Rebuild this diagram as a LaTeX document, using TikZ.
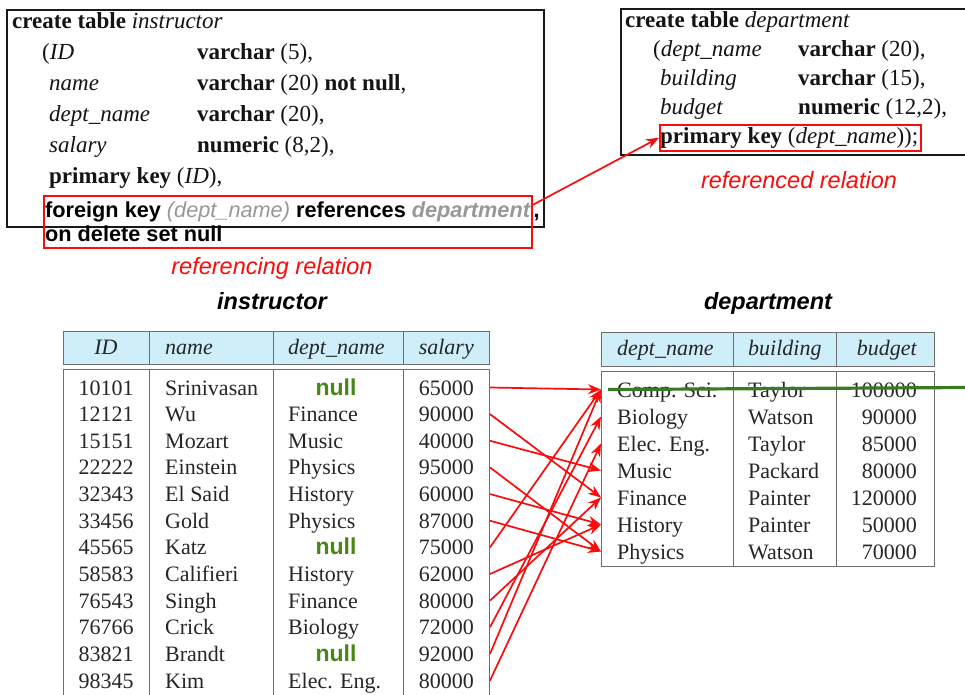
\documentclass[tikz,border=0pt]{standalone}
\usepackage{fontspec}
\setmainfont{Liberation Serif}
\setsansfont{Liberation Sans}
\usetikzlibrary{positioning,arrows.meta}
\tikzstyle{pixelGrid} = [x = 1pt, y = -1pt]
\definecolor{headerColor}{RGB}{206,238,250}
\definecolor{ruleColor}{RGB}{110,110,110}
\definecolor{cellInk}{RGB}{38,38,38}
\definecolor{nullColor}{RGB}{72,134,22}
\definecolor{strikeColor}{RGB}{58,122,36}
\definecolor{keyGray}{RGB}{152,152,152}
\definecolor{linkRed}{RGB}{250,12,12}
\tikzstyle{codeBoxStyle} = [draw=black!90, line width=1.8pt]
\tikzstyle{codeText} = [anchor=base west, inner sep=0pt, text=black!92, font=\fontsize{23}{27}\selectfont]
\tikzstyle{keyText} = [anchor=base west, inner sep=0pt, font=\fontsize{21.7}{26}\selectfont\sffamily\bfseries]
\tikzstyle{keyBoxStyle} = [draw=linkRed, line width=1.5pt, inner sep=0pt, anchor=north west]
\tikzstyle{captionText} = [anchor=base, inner sep=0pt, text=linkRed, font=\fontsize{23.5}{28}\selectfont\sffamily\itshape]
\tikzstyle{titleText} = [anchor=base, inner sep=0pt, font=\fontsize{23.5}{28}\selectfont\sffamily\bfseries\itshape]
\tikzstyle{headerStyle} = [fill=headerColor, draw=ruleColor, line width=1pt]
\tikzstyle{bodyStyle} = [draw=ruleColor, line width=1pt, inner sep=0pt, anchor=north west]
\tikzstyle{ruleLine} = [draw=ruleColor, line width=1pt]
\tikzstyle{cellText} = [inner sep=0pt, text=cellInk, text height=15pt, text depth=0pt, font=\fontsize{22}{26}\selectfont]
\tikzstyle{headText} = [cellText, font=\fontsize{22}{26}\selectfont\itshape]
\tikzstyle{nullText} = [cellText, text=nullColor, font=\fontsize{23}{27}\selectfont\sffamily\bfseries]
\tikzstyle{strikeLine} = [draw=strikeColor, line width=3.2pt]
\tikzstyle{linkArrow} = [draw=linkRed, line width=1.7pt, -{Stealth[length=13pt, width=10pt]}]
\newcommand{\instRowGap}{26.64}
\newcommand{\deptRowGap}{27}
\newcommand{\instructorRow}[5]{
  \pgfmathsetmacro{\baseY}{395 + \instRowGap * (#1 - 1)}
  \node [cellText, anchor=base] (id#1) at (106, \baseY) {#2};
  \node [cellText, anchor=base west] (name#1) at (165, \baseY) {#3};
  \node [cellText, anchor=base west] (dept#1) at (288, \baseY) {#4};
  \node [cellText, anchor=base east] (salary#1) at (474, \baseY) {#5};
}
\newcommand{\instructorNullRow}[4]{
  \pgfmathsetmacro{\baseY}{395 + \instRowGap * (#1 - 1)}
  \node [cellText, anchor=base] (id#1) at (106, \baseY) {#2};
  \node [cellText, anchor=base west] (name#1) at (165, \baseY) {#3};
  \node [nullText, anchor=base] (dept#1) at (336, \baseY) {null};
  \node [cellText, anchor=base east] (salary#1) at (474, \baseY) {#4};
}
\newcommand{\departmentRow}[5]{
  \pgfmathsetmacro{\baseY}{397 + \deptRowGap * (#1 - 1)}
  \node [cellText, anchor=base west] (#2) at (617, \baseY) {#3};
  \node [cellText, anchor=base west] (#2Building) at (748, \baseY) {#4};
  \node [cellText, anchor=base east] (#2Budget) at (917, \baseY) {#5};
}
\begin{document}
\begin{tikzpicture}[pixelGrid]
  \clip (0,0) rectangle (965,694);
  \fill [white] (0,0) rectangle (965,694);

  % create table instructor
  \draw [codeBoxStyle] (7,10) rectangle (544,227);
  \node [codeText] (instTitle) at (12,28) {\textbf{create table} \textit{instructor}};
  \node [codeText] (idField) at (42,59) {(\textit{ID}};
  \node [codeText] (idType) at (197,59) {\textbf{varchar} (5),};
  \node [codeText] (nameField) at (49,90) {\textit{name}};
  \node [codeText] (nameType) at (197,90) {\textbf{varchar} (20) \textbf{not null},};
  \node [codeText] (deptField) at (49,121) {\textit{dept\_name}};
  \node [codeText] (deptType) at (197,121) {\textbf{varchar} (20),};
  \node [codeText] (salaryField) at (49,152) {\textit{salary}};
  \node [codeText] (salaryType) at (197,152) {\textbf{numeric} (8,2),};
  \node [codeText] (instPrimary) at (49,183) {\textbf{primary key} (\textit{ID}),};
  \node [keyBoxStyle, minimum width=488pt, minimum height=52pt] (fkBox) at (43,195) {};
  \node [keyText] (fkLine) at (45,217) {foreign key {\color{keyGray}\mdseries\itshape (dept\_name)} references {\color{keyGray}\itshape department}\,,};
  \node [keyText] (onDelete) at (45,241) {on delete set null};
  \node [captionText] (referencingCap) at (272,274) {referencing relation};

  % create table department
  \draw [codeBoxStyle] (621,9) rectangle (980,155);
  \node [codeText] (deptTitle) at (625,27) {\textbf{create table} \textit{department}};
  \node [codeText] (deptKeyField) at (653,56) {(\textit{dept\_name}};
  \node [codeText] (deptKeyType) at (798,56) {\textbf{varchar} (20),};
  \node [codeText] (bldgField) at (660,85) {\textit{building}};
  \node [codeText] (bldgType) at (798,85) {\textbf{varchar} (15),};
  \node [codeText] (budgetField) at (660,114) {\textit{budget}};
  \node [codeText] (budgetType) at (798,114) {\textbf{numeric} (12,2),};
  \node [codeText] (deptPrimary) at (660,143) {\textbf{primary key} (\textit{dept\_name}));};
  \node [keyBoxStyle, minimum width=261pt, minimum height=26pt] (pkBox) at (659,124) {};
  \node [captionText] (referencedCap) at (799,188) {referenced relation};

  \draw [linkArrow] ([yshift=-10pt]fkBox.north east) -- (pkBox.west);

  % instructor table
  \node [titleText] (instName) at (272,309) {instructor};
  \draw [headerStyle] (63,331) rectangle (489,364);
  \node [bodyStyle, minimum width=426pt, minimum height=340pt] (instBody) at (63,369) {};
  \foreach \sep in {149,273,403} {
    \draw [ruleLine] (\sep,331) -- (\sep,364);
    \draw [ruleLine] (\sep,369) -- (\sep,710);
  }
  \node [headText, anchor=base] (idHead) at (106,354) {ID};
  \node [headText, anchor=base west] (nameHead) at (165,354) {name};
  \node [headText, anchor=base west] (deptHead) at (288,354) {dept\_name};
  \node [headText, anchor=base east] (salaryHead) at (474,354) {salary};
  \instructorNullRow{1}{10101}{Srinivasan}{65000}
  \instructorRow{2}{12121}{Wu}{Finance}{90000}
  \instructorRow{3}{15151}{Mozart}{Music}{40000}
  \instructorRow{4}{22222}{Einstein}{Physics}{95000}
  \instructorRow{5}{32343}{El Said}{History}{60000}
  \instructorRow{6}{33456}{Gold}{Physics}{87000}
  \instructorNullRow{7}{45565}{Katz}{75000}
  \instructorRow{8}{58583}{Califieri}{History}{62000}
  \instructorRow{9}{76543}{Singh}{Finance}{80000}
  \instructorRow{10}{76766}{Crick}{Biology}{72000}
  \instructorNullRow{11}{83821}{Brandt}{92000}
  \instructorRow{12}{98345}{Kim}{Elec. Eng.}{80000}

  % department table
  \node [titleText] (deptName) at (768,309) {department};
  \draw [headerStyle] (601,332) rectangle (934,366);
  \node [bodyStyle, minimum width=333pt, minimum height=195pt] (deptBody) at (601,371) {};
  \foreach \sep in {733,836} {
    \draw [ruleLine] (\sep,332) -- (\sep,366);
    \draw [ruleLine] (\sep,371) -- (\sep,566);
  }
  \node [headText, anchor=base west] (deptNameHead) at (617,355) {dept\_name};
  \node [headText, anchor=base west] (buildingHead) at (748,355) {building};
  \node [headText, anchor=base east] (budgetHead) at (917,355) {budget};
  \departmentRow{1}{compSci}{Comp. Sci.}{Taylor}{100000}
  \departmentRow{2}{biology}{Biology}{Watson}{90000}
  \departmentRow{3}{elecEng}{Elec. Eng.}{Taylor}{85000}
  \departmentRow{4}{music}{Music}{Packard}{80000}
  \departmentRow{5}{finance}{Finance}{Painter}{120000}
  \departmentRow{6}{history}{History}{Painter}{50000}
  \departmentRow{7}{physics}{Physics}{Watson}{70000}
  \draw [strikeLine] (608,389.5) -- (966,387.5);

  \foreach \row/\target in {1/compSci, 2/finance, 3/music, 4/physics, 5/history, 6/physics,
      7/compSci, 8/history, 9/finance, 10/biology, 11/compSci, 12/elecEng}
    \draw [linkArrow] (instBody.east |- salary\row) -- (deptBody.west |- \target);
\end{tikzpicture}
\end{document}
